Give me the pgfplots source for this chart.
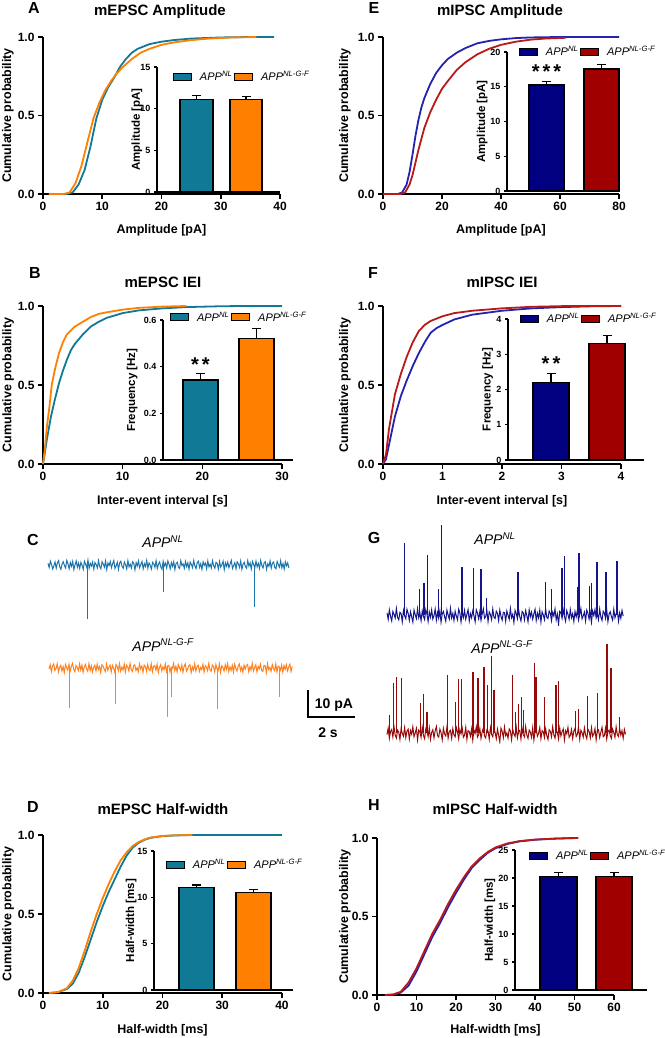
\documentclass[border=0pt]{standalone}
\usepackage{pgfplots}
\pgfplotsset{compat=1.18}
\usepackage{fontspec}
\setmainfont{Liberation Sans}
\definecolor{cA}{RGB}{16,122,150}
\definecolor{cB}{RGB}{255,127,0}
\definecolor{cN}{RGB}{0,0,128}
\definecolor{cR}{RGB}{160,0,0}
\definecolor{lN}{RGB}{35,35,175}
\definecolor{lR}{RGB}{185,25,25}
\definecolor{tA}{RGB}{27,117,172}
\definecolor{tB}{RGB}{255,128,30}
\definecolor{tN}{RGB}{20,20,140}
\definecolor{tR}{RGB}{150,10,10}
\newcommand{\fs}[1]{\fontsize{#1}{#1}\selectfont}
\newcommand{\app}[1]{\textit{APP\textsuperscript{#1}}}
\pgfplotsset{
 cdf/.style={
  scale only axis, axis lines=left, clip=false,
  axis line style={line width=1.8pt,-},
  tick style={line width=1.6pt, black},
  tick align=outside, major tick length=5pt,
  xmin=0, ymin=0, ymax=1, ytick={0,0.5,1},
  yticklabel style={/pgf/number format/.cd, fixed, fixed zerofill, precision=1},
  /pgf/number format/assume math mode=true,
  tick label style={font=\bfseries\fs{12}},
  label style={font=\bfseries\fs{12.5}},
  ylabel={Cumulative probability},
 },
 inset/.style={
  scale only axis, axis lines=left, clip=false,
  axis line style={line width=1.3pt,-},
  tick style={line width=1.2pt, black},
  tick align=outside, major tick length=3pt,
  xtick=\empty, xmin=0, ymin=0,
  /pgf/number format/assume math mode=true,
  tick label style={font=\bfseries\fs{9}},
  label style={font=\bfseries\fs{11.5}},
  legend columns=2,
  legend style={draw=none, fill=none, font=\fs{11}, anchor=west, inner sep=0pt,
    /tikz/every odd column/.append style={column sep=6pt}},
  legend cell align=left,
 },
 mybar/.style={ybar, bar shift=0pt, bar width=#1, draw=black, line width=1.2pt,
   error bars/y dir=plus, error bars/y explicit,
   error bars/error bar style={line width=1.2pt, black},
   error bars/error mark options={rotate=90, line width=1.2pt, black, mark size=4.5pt}},
 sq/.style={legend image code/.code={\draw[##1, line width=0.8pt, draw=black] (0pt,-3.5pt) rectangle (18pt,3.5pt);}},
 trace/.style={hide axis, x=23.5pt, y=2.7pt, xmin=-0.1, xmax=10.4, anchor=origin},
}
\begin{document}
\begin{tikzpicture}
\useasboundingbox (0,0) rectangle (664pt,1038pt);
% ---------------- A ----------------
\begin{axis}[cdf, at={(43pt,844pt)}, anchor=south west, width=237pt, height=157pt,
  xmax=40, xtick={0,10,20,30,40}, xlabel={Amplitude [pA]},
  ylabel style={at={(axis description cs:-0.148,0.5)}, anchor=center},
  xlabel style={at={(axis description cs:0.5,-0.229)}, anchor=center}]
\addplot[cA, line width=1.8pt] coordinates {(1,0) (4,0) (5,0.01) (6,0.06) (7,0.15) (8,0.3) (9,0.48) (10,0.6) (11,0.68) (12,0.74) (13,0.81) (14,0.86) (15,0.9) (16,0.925) (18,0.955) (20,0.97) (22,0.98) (25,0.99) (30,0.997) (35,1) (39,1)};
\addplot[cB, line width=1.8pt] coordinates {(1,0) (3.5,0) (4.5,0.01) (5.5,0.07) (6.5,0.18) (7.5,0.33) (8.5,0.48) (9.5,0.58) (10.5,0.66) (11.5,0.72) (12.5,0.77) (13.5,0.81) (15,0.86) (16.5,0.9) (18,0.925) (20,0.95) (22,0.965) (25,0.98) (28,0.99) (32,0.997) (36,1)};
\end{axis}
\begin{axis}[inset, at={(157pt,846pt)}, anchor=south west, width=123pt, height=125pt,
  xmax=123, ymax=15, ytick={0,5,10,15}, ylabel={Amplitude [pA]},
  ylabel style={at={(axis description cs:-0.163,0.5)}, anchor=center},
  legend style={at={(axis description cs:0.13,0.92)}}]
\addplot[mybar=33, fill=cA, sq] coordinates {(39.5,11.1) +- (0,0.5)};
\addplot[mybar=32, fill=cB, sq] coordinates {(89,11.1) +- (0,0.35)};
\legend{\app{NL}, \app{NL-G-F}}
\end{axis}
% ---------------- E ----------------
\begin{axis}[cdf, at={(383pt,844pt)}, anchor=south west, width=236pt, height=157pt,
  xmax=80, xtick={0,20,40,60,80}, xlabel={Amplitude [pA]},
  ylabel style={at={(axis description cs:-0.161,0.5)}, anchor=center},
  xlabel style={at={(axis description cs:0.5,-0.229)}, anchor=center}]
\addplot[lN, line width=1.8pt] coordinates {(0,0) (5,0) (6.5,0.01) (8,0.06) (9,0.14) (10,0.25) (11,0.37) (12,0.47) (13,0.55) (14,0.61) (16,0.7) (18,0.77) (20,0.82) (22,0.86) (25,0.9) (28,0.93) (32,0.96) (36,0.975) (40,0.985) (45,0.993) (50,0.997) (60,1) (80,1)};
\addplot[lR, line width=1.8pt] coordinates {(0,0) (6,0) (7.5,0.01) (9,0.06) (10,0.12) (11,0.2) (12,0.28) (13,0.35) (14,0.42) (15,0.47) (16,0.52) (18,0.6) (20,0.67) (22,0.72) (25,0.79) (28,0.84) (32,0.89) (36,0.925) (40,0.95) (45,0.97) (50,0.983) (55,0.99) (62,0.995)};
\end{axis}
\begin{axis}[inset, at={(507pt,847pt)}, anchor=south west, width=112pt, height=139pt,
  xmax=112, ymax=20, ytick={0,5,10,15,20}, ylabel={Amplitude [pA]},
  ylabel style={at={(axis description cs:-0.223,0.5)}, anchor=center},
  legend style={at={(axis description cs:0.107,1.0)}}]
\addplot[mybar=35, fill=cN, sq] coordinates {(39.5,15.25) +- (0,0.45)};
\addplot[mybar=35, fill=cR, sq] coordinates {(94.5,17.55) +- (0,0.65)};
\legend{\app{NL}, \app{NL-G-F}}
\node[font=\bfseries\fs{20}] at (axis cs:39.5,17.2) {*\kern3pt*\kern3pt*};
\end{axis}
% ---------------- B ----------------
\begin{axis}[cdf, at={(43pt,574pt)}, anchor=south west, width=239pt, height=158pt,
  xmax=30, xtick={0,10,20,30}, xlabel={Inter-event interval [s]},
  ylabel style={at={(axis description cs:-0.146,0.5)}, anchor=center},
  xlabel style={at={(axis description cs:0.5,-0.234)}, anchor=center}]
\addplot[cA, line width=1.8pt] coordinates {(0,0) (0.2,0.06) (0.5,0.16) (1,0.3) (1.5,0.41) (2,0.51) (2.5,0.59) (3,0.66) (3.5,0.72) (4,0.76) (5,0.82) (6,0.87) (7,0.9) (8,0.925) (10,0.955) (12,0.972) (15,0.985) (18,0.993) (22,0.998) (25,1) (30,1)};
\addplot[cB, line width=1.8pt] coordinates {(0,0) (0.2,0.08) (0.5,0.24) (0.8,0.36) (1.1,0.5) (1.5,0.6) (2,0.7) (2.5,0.77) (3,0.82) (4,0.87) (5,0.9) (6,0.93) (7,0.95) (8,0.96) (10,0.977) (12,0.988) (15,0.996) (18,1)};
\end{axis}
\begin{axis}[inset, at={(163pt,578pt)}, anchor=south west, width=130pt, height=140pt,
  xmax=130, ymax=0.6, ytick={0,0.2,0.4,0.6}, ylabel={Frequency [Hz]},
  yticklabel style={/pgf/number format/.cd, fixed, fixed zerofill, precision=1},
  ylabel style={at={(axis description cs:-0.238,0.5)}, anchor=center},
  legend style={at={(axis description cs:0.054,1.02)}}]
\addplot[mybar=35, fill=cA, sq] coordinates {(37.5,0.343) +- (0,0.028)};
\addplot[mybar=35, fill=cB, sq] coordinates {(93.5,0.519) +- (0,0.045)};
\legend{\app{NL}, \app{NL-G-F}}
\node[font=\bfseries\fs{20}] at (axis cs:37.5,0.41) {*\kern3pt*};
\end{axis}
% ---------------- F ----------------
\begin{axis}[cdf, at={(383pt,574pt)}, anchor=south west, width=238pt, height=158pt,
  xmax=4, xtick={0,1,2,3,4}, xlabel={Inter-event interval [s]},
  ylabel style={at={(axis description cs:-0.16,0.5)}, anchor=center},
  xlabel style={at={(axis description cs:0.5,-0.234)}, anchor=center}]
\addplot[lN, line width=1.8pt] coordinates {(0,0) (0.05,0.03) (0.1,0.12) (0.2,0.3) (0.3,0.43) (0.4,0.53) (0.5,0.62) (0.6,0.7) (0.7,0.77) (0.8,0.83) (0.9,0.86) (1,0.88) (1.2,0.915) (1.5,0.945) (2,0.97) (2.5,0.985) (3,0.993) (3.5,0.998) (4,1)};
\addplot[lR, line width=1.8pt] coordinates {(0,0) (0.05,0.06) (0.1,0.22) (0.2,0.44) (0.3,0.57) (0.4,0.68) (0.5,0.77) (0.6,0.84) (0.7,0.88) (0.8,0.905) (1,0.935) (1.2,0.955) (1.5,0.97) (2,0.985) (2.5,0.995) (3,0.999) (4,1)};
\end{axis}
\begin{axis}[inset, at={(508pt,578pt)}, anchor=south west, width=136pt, height=141pt,
  xmax=136, ymax=4, ytick={0,1,2,3,4}, ylabel={Frequency [Hz]},
  ylabel style={at={(axis description cs:-0.15,0.5)}, anchor=center},
  legend style={at={(axis description cs:0.088,1.0)}}]
\addplot[mybar=36, fill=cN, sq] coordinates {(43,2.2) +- (0,0.26)};
\addplot[mybar=36, fill=cR, sq] coordinates {(99,3.3) +- (0,0.23)};
\legend{\app{NL}, \app{NL-G-F}}
\node[font=\bfseries\fs{20}] at (axis cs:43,2.72) {*\kern3pt*};
\end{axis}
% ---------------- C traces ----------------
\begin{axis}[trace, at={(48pt,473pt)}, ymin=-21, ymax=3]
\addplot[tA, line width=1.0pt] table[header=false, row sep=\\, x expr=\coordindex*0.05, y index=0] {
0.6\\-0.9\\1.4\\0.2\\-1.5\\-0.3\\1.1\\-1.2\\0.8\\1.6\\-0.7\\-1.6\\0.4\\1.2\\-0.2\\-1.1\\1.7\\0.5\\-1.4\\0.9\\
-0.5\\1.3\\-1.7\\0.1\\1.5\\-0.8\\0.7\\-1.3\\1.0\\-0.1\\-1.6\\1.4\\0.3\\-0.9\\1.8\\-1.2\\0.6\\-0.4\\1.1\\-1.5\\
0.9\\0.2\\-1.1\\1.6\\-0.6\\-1.4\\1.2\\0.4\\-0.8\\1.5\\-1.7\\0.7\\-0.2\\1.3\\-1.0\\0.5\\1.7\\-1.3\\-0.3\\1.0\\
-1.6\\0.8\\1.4\\-0.5\\-1.2\\1.1\\0.1\\-1.5\\1.6\\-0.7\\0.3\\-1.1\\1.2\\0.6\\-1.8\\0.9\\-0.4\\1.5\\-1.0\\0.2\\
1.3\\-1.4\\0.5\\-0.6\\1.7\\-1.2\\0.8\\-0.1\\-1.5\\1.0\\0.4\\-0.9\\1.6\\-1.3\\0.2\\1.1\\-0.7\\-1.6\\1.4\\-0.3\\
0.7\\-1.1\\1.5\\0.3\\-1.4\\0.9\\-0.5\\1.2\\-1.7\\0.6\\1.0\\-0.8\\-1.3\\1.6\\-0.2\\0.4\\-1.2\\1.3\\-0.6\\0.8\\
-1.5\\1.1\\0.2\\-1.0\\1.7\\-0.4\\-1.3\\0.9\\1.4\\-0.9\\0.5\\-1.6\\1.2\\-0.1\\0.7\\-1.4\\1.5\\-0.7\\0.3\\-1.1\\
1.6\\-0.3\\-1.2\\1.0\\0.6\\-1.5\\1.3\\-0.8\\0.1\\1.4\\-1.7\\0.8\\-0.5\\1.1\\-1.0\\0.4\\1.7\\-1.3\\-0.2\\0.9\\
-1.4\\1.2\\0.5\\-0.9\\1.5\\-1.6\\0.3\\1.0\\-0.6\\-1.2\\1.6\\-0.4\\0.8\\-1.5\\1.3\\0.2\\-1.0\\1.4\\-0.7\\0.6\\
-1.3\\1.7\\-0.2\\-1.1\\0.9\\1.2\\-1.6\\0.4\\-0.5\\1.5\\-1.2\\0.7\\1.1\\-0.9\\-1.4\\1.3\\0.1\\-0.8\\1.6\\-1.0\\
0.5\\-1.5\\1.2\\-0.3\\0.8\\-1.1\\
};
\addplot[ycomb, tA, line width=0.9pt] coordinates {(1.66,-20) (4.9,-10) (8.77,-15.5)};
\end{axis}
\begin{axis}[trace, at={(49pt,370pt)}, ymin=-19, ymax=3]
\addplot[tB, line width=1.0pt] table[header=false, row sep=\\, x expr=\coordindex*0.05, y index=0] {
-0.4\\1.2\\-1.3\\0.7\\1.5\\-0.9\\-0.2\\1.6\\-1.5\\0.3\\1.0\\-1.1\\0.5\\-1.7\\1.3\\0.1\\-0.8\\1.4\\-1.2\\0.6\\
1.7\\-0.5\\-1.4\\0.9\\0.2\\-1.0\\1.5\\-0.7\\1.1\\-1.6\\0.4\\1.3\\-0.3\\-1.2\\1.6\\-0.9\\0.8\\-1.5\\0.3\\1.0\\
-1.1\\1.4\\-0.6\\0.5\\-1.7\\1.2\\0.7\\-0.4\\-1.3\\1.5\\-0.8\\0.2\\1.1\\-1.4\\0.9\\-0.1\\-1.6\\1.3\\0.6\\-1.0\\
1.6\\-1.2\\0.3\\-0.7\\1.4\\-1.5\\1.0\\0.4\\-1.1\\1.7\\-0.6\\-1.3\\0.8\\1.2\\-0.9\\0.1\\-1.4\\1.5\\-0.3\\0.7\\
-1.6\\1.1\\0.5\\-1.2\\1.3\\-0.5\\-1.0\\1.6\\-1.4\\0.6\\0.9\\-0.8\\1.4\\-1.7\\0.2\\1.2\\-1.1\\0.4\\-0.6\\1.5\\
-1.3\\0.8\\1.0\\-1.5\\0.3\\-0.2\\1.7\\-1.0\\0.6\\-1.4\\1.3\\0.1\\-0.9\\1.1\\-1.6\\0.7\\1.5\\-1.2\\-0.4\\0.9\\
1.2\\-1.7\\0.4\\-0.8\\1.6\\-1.1\\0.5\\1.0\\-1.3\\0.2\\-0.6\\1.4\\-1.5\\0.9\\0.3\\-1.0\\1.7\\-0.7\\-1.2\\1.1\\
0.6\\-1.4\\1.3\\-0.3\\-0.9\\1.5\\-1.6\\0.8\\0.2\\-1.1\\1.2\\-0.5\\1.6\\-1.3\\0.4\\-0.8\\1.0\\-1.5\\1.4\\-0.1\\
-1.2\\0.7\\1.5\\-1.0\\0.3\\-1.6\\1.1\\-0.4\\0.9\\1.3\\-1.4\\0.5\\-0.7\\1.7\\-1.1\\0.1\\1.2\\-1.5\\0.6\\-0.3\\
1.4\\-0.9\\-1.3\\1.0\\0.8\\-1.7\\1.6\\-0.6\\0.2\\-1.2\\1.3\\-0.2\\-1.0\\1.5\\-1.4\\0.7\\0.4\\-0.8\\1.1\\-1.6\\
0.9\\-0.5\\1.2\\-1.1\\0.3\\1.4\\-1.3\\0.6\\
};
\addplot[ycomb, tB, line width=0.9pt] coordinates {(0.89,-14.8) (2.81,-13.3) (5.06,-18.1) (5.23,-10.7) (7.15,-15.2) (9.79,-10.7)};
\end{axis}
% ---------------- G traces ----------------
\begin{axis}[trace, at={(387pt,423pt)}, ymin=-4, ymax=34]
\addplot[tN, line width=1.0pt] table[header=false, row sep=\\, x expr=\coordindex*0.05, y index=0] {
0.8\\-1.6\\1.9\\-0.4\\-2.2\\1.3\\0.2\\-1.1\\2.4\\-0.9\\-1.8\\1.0\\0.5\\-2.5\\1.7\\-0.3\\-1.4\\2.1\\0.6\\-2.0\\
1.2\\-0.7\\-2.6\\1.8\\0.1\\-1.3\\2.3\\-1.0\\0.7\\-2.1\\1.5\\-0.5\\-1.7\\2.0\\0.3\\-2.4\\1.1\\-0.8\\1.9\\-1.5\\
-0.2\\2.2\\-1.9\\0.9\\-1.2\\1.6\\-2.7\\0.4\\1.3\\-0.6\\-2.3\\1.8\\0.0\\-1.5\\2.5\\-1.1\\0.6\\-2.0\\1.4\\-0.4\\
-1.8\\2.1\\0.8\\-2.6\\1.0\\-0.9\\1.7\\-1.6\\0.3\\2.0\\-2.2\\0.5\\-1.0\\1.5\\-0.3\\-2.5\\1.9\\0.7\\-1.4\\1.2\\
-2.0\\0.4\\2.3\\-1.2\\-0.6\\1.6\\-2.4\\1.1\\0.2\\-1.7\\2.2\\-0.8\\-1.3\\1.4\\0.6\\-2.1\\1.8\\-0.5\\-1.9\\1.0\\
0.9\\-2.3\\1.5\\-0.1\\-1.6\\2.4\\-1.0\\0.3\\-2.8\\1.7\\0.5\\-1.4\\2.0\\-0.7\\-2.2\\1.3\\0.8\\-1.8\\1.6\\-0.2\\
-2.5\\1.9\\-0.6\\1.1\\-1.5\\0.4\\2.1\\-2.0\\0.7\\-1.1\\1.8\\-2.6\\1.2\\0.0\\-1.7\\2.3\\-0.9\\-1.3\\1.5\\0.6\\
-2.1\\1.0\\-0.4\\2.2\\-1.8\\0.3\\-3.4\\1.4\\0.8\\-1.2\\1.9\\-0.5\\-2.3\\1.6\\0.2\\-1.6\\2.0\\-1.0\\0.5\\-2.4\\
1.3\\-0.7\\1.7\\-1.9\\0.1\\2.4\\-1.4\\-0.3\\1.1\\-2.2\\1.8\\0.6\\-1.5\\0.9\\-2.7\\1.5\\-0.2\\2.0\\-1.1\\0.4\\
-1.7\\2.2\\-0.8\\-2.0\\1.4\\0.7\\-1.3\\1.9\\-2.5\\0.3\\1.2\\-0.6\\-1.9\\2.1\\-1.0\\0.5\\1.6\\-2.3\\0.8\\-1.2\\
1.7\\-0.4\\
};
\addplot[ycomb, tN, line width=1.3pt] coordinates {(0.75,26.5) (1.38,9.5) (1.57,12) (1.72,22.2) (2.2,9.5) (2.31,33.3) (3.19,17.9) (3.69,17.3) (4.0,16.9) (4.23,6.2) (5.57,15.9) (6.75,12.3) (6.99,9.5) (7.45,17.5) (7.56,21.9) (8.11,10.2) (8.17,23.1) (8.62,10.7) (8.71,11.7) (8.94,19.7) (9.32,16) (9.79,20.1)};
\end{axis}
\begin{axis}[trace, at={(387pt,305pt)}, ymin=-4, ymax=34]
\addplot[tR, line width=1.0pt] table[header=false, row sep=\\, x expr=\coordindex*0.05, y index=0] {
-0.6\\1.8\\-2.0\\0.5\\1.3\\-1.5\\2.2\\-0.8\\-1.9\\1.0\\0.3\\-2.4\\1.6\\-0.2\\-1.2\\2.0\\-1.7\\0.7\\1.4\\-2.2\\
0.9\\-0.5\\2.3\\-1.4\\-0.1\\1.7\\-2.6\\1.1\\0.4\\-1.6\\2.1\\-0.9\\-2.1\\1.5\\0.6\\-1.3\\1.9\\-2.3\\0.2\\1.2\\
-1.8\\0.8\\2.4\\-1.0\\-1.5\\1.4\\0.1\\-2.5\\1.7\\-0.4\\-1.1\\2.2\\-1.9\\0.6\\1.0\\-2.0\\1.6\\-0.7\\-1.4\\2.0\\
0.3\\-2.2\\1.3\\-0.3\\1.8\\-1.6\\-0.8\\2.1\\-2.4\\0.9\\0.5\\-1.2\\1.5\\-2.7\\1.1\\-0.1\\2.3\\-1.5\\-0.6\\1.7\\
-2.0\\0.4\\1.9\\-1.1\\-1.8\\1.2\\0.7\\-2.3\\2.0\\-0.5\\-1.4\\1.6\\0.2\\-2.1\\1.4\\-0.9\\-3.3\\1.8\\0.6\\-1.7\\
2.2\\-1.0\\0.0\\-1.9\\1.5\\0.8\\-2.5\\1.3\\-0.4\\-1.3\\2.1\\-1.8\\0.5\\1.0\\-2.2\\1.7\\-0.6\\-1.5\\2.4\\-0.8\\
-2.0\\1.1\\0.3\\-1.6\\1.9\\-2.6\\0.7\\1.4\\-1.2\\-0.2\\2.0\\-2.1\\0.9\\0.4\\-1.7\\1.6\\-1.0\\-2.4\\1.2\\0.6\\
-1.4\\2.3\\-0.7\\-1.9\\1.0\\0.2\\-2.2\\1.8\\-1.1\\0.5\\1.5\\-2.6\\0.8\\-0.3\\2.1\\-1.6\\-0.9\\1.3\\-2.0\\0.7\\
1.7\\-1.3\\-0.5\\2.2\\-2.3\\1.0\\0.1\\-1.5\\1.9\\-0.8\\-2.1\\1.4\\0.6\\-1.8\\2.0\\-1.2\\-0.4\\1.6\\-2.5\\0.9\\
1.2\\-1.7\\0.3\\2.1\\-1.4\\-0.9\\1.8\\-2.2\\0.5\\1.1\\-1.0\\-2.0\\1.5\\0.2\\-1.6\\2.3\\-0.6\\-1.3\\1.7\\-0.8\\
0.8\\-1.9\\1.3\\-0.5\\
};
\addplot[ycomb, tR, line width=1.2pt] coordinates {(0.1,6.7) (0.26,18.6) (0.41,20.6) (0.61,20.2) (1.43,11) (1.56,14.4) (1.7,7.9) (2.58,21.5) (2.91,11.6) (3.03,20) (3.18,20) (3.66,22.7) (3.87,20.2) (4.13,24.3) (4.28,17.8) (4.43,28.5) (4.55,15.9) (5.35,21.5) (5.46,7.9) (5.6,10.7) (5.72,13.4) (5.8,8.5) (6.28,26) (6.34,20.9) (6.71,13.4) (7.19,17.8) (7.31,19.4) (8.01,8.3) (8.16,8.8) (8.52,13.7) (8.97,14.7) (9.36,33) (9.53,24) (9.89,6)};
\end{axis}
% ---------------- D ----------------
\begin{axis}[cdf, at={(43pt,45pt)}, anchor=south west, width=239pt, height=158pt,
  xmax=40, xtick={0,10,20,30,40}, xlabel={Half-width [ms]},
  ylabel style={at={(axis description cs:-0.146,0.5)}, anchor=center},
  xlabel style={at={(axis description cs:0.5,-0.234)}, anchor=center}]
\addplot[cA, line width=1.8pt] coordinates {(1,0) (2.5,0.005) (4,0.025) (5,0.06) (6,0.13) (7,0.23) (8,0.34) (9,0.45) (10,0.55) (11,0.64) (12,0.72) (13,0.8) (14,0.87) (15,0.92) (16,0.95) (17,0.97) (18,0.982) (20,0.993) (22,0.997) (25,1) (40,1)};
\addplot[cB, line width=1.8pt] coordinates {(1,0) (2.5,0.005) (4,0.03) (5,0.08) (6,0.16) (7,0.27) (8,0.39) (9,0.5) (10,0.6) (11,0.69) (12,0.77) (13,0.84) (14,0.89) (15,0.93) (16,0.955) (17,0.972) (18,0.984) (20,0.994) (22,0.998) (25,1)};
\end{axis}
\begin{axis}[inset, at={(154pt,48pt)}, anchor=south west, width=139pt, height=139pt,
  xmax=139, ymax=15, ytick={0,5,10,15}, ylabel={Half-width [ms]},
  ylabel style={at={(axis description cs:-0.164,0.5)}, anchor=center},
  legend style={at={(axis description cs:0.086,0.9)}}]
\addplot[mybar=35, fill=cA, sq] coordinates {(42.5,11.04) +- (0,0.3)};
\addplot[mybar=35, fill=cB, sq] coordinates {(99.5,10.54) +- (0,0.28)};
\legend{\app{NL}, \app{NL-G-F}}
\end{axis}
% ---------------- H ----------------
\begin{axis}[cdf, at={(377pt,43pt)}, anchor=south west, width=237pt, height=157pt,
  xmax=60, xtick={0,10,20,30,40,50,60}, xlabel={Half-width [ms]},
  ylabel style={at={(axis description cs:-0.135,0.5)}, anchor=center},
  xlabel style={at={(axis description cs:0.5,-0.223)}, anchor=center}]
\addplot[lN, line width=1.8pt] coordinates {(2,0) (4,0.002) (6,0.015) (8,0.06) (10,0.15) (12,0.26) (14,0.37) (16,0.46) (18,0.56) (20,0.65) (22,0.735) (24,0.81) (26,0.86) (28,0.905) (30,0.935) (33,0.962) (36,0.978) (40,0.989) (45,0.996) (50,1)};
\addplot[lR, line width=1.8pt] coordinates {(2,0) (4,0.003) (6,0.02) (8,0.08) (10,0.17) (12,0.28) (14,0.39) (16,0.48) (18,0.58) (20,0.67) (22,0.75) (24,0.82) (26,0.87) (28,0.91) (30,0.94) (33,0.965) (36,0.98) (40,0.99) (45,0.996) (51,1)};
\end{axis}
\begin{axis}[inset, at={(515pt,48pt)}, anchor=south west, width=132pt, height=140pt,
  xmax=132, ymax=25, ytick={0,5,10,15,20,25}, ylabel={Half-width [ms]},
  ylabel style={at={(axis description cs:-0.19,0.5)}, anchor=center},
  legend style={at={(axis description cs:0.106,0.96)}}]
\addplot[mybar=37, fill=cN, sq] coordinates {(43.5,20.2) +- (0,0.75)};
\addplot[mybar=36, fill=cR, sq] coordinates {(99,20.25) +- (0,0.7)};
\legend{\app{NL}, \app{NL-G-F}}
\end{axis}
% ---------------- texts ----------------
\node[font=\bfseries\fs{15}] at (160pt,1026pt) {mEPSC Amplitude};
\node[font=\bfseries\fs{15}] at (500pt,1026pt) {mIPSC Amplitude};
\node[font=\bfseries\fs{15}] at (163pt,756pt) {mEPSC IEI};
\node[font=\bfseries\fs{15}] at (502pt,756pt) {mIPSC IEI};
\node[font=\bfseries\fs{15}] at (163pt,229pt) {mEPSC Half-width};
\node[font=\bfseries\fs{15}] at (495pt,229pt) {mIPSC Half-width};
\node[font=\bfseries\fs{16}] at (34pt,1030pt) {A};
\node[font=\bfseries\fs{16}] at (374pt,1030pt) {E};
\node[font=\bfseries\fs{16}] at (35pt,765pt) {B};
\node[font=\bfseries\fs{16}] at (373pt,765pt) {F};
\node[font=\bfseries\fs{16}] at (33pt,498pt) {C};
\node[font=\bfseries\fs{16}] at (374pt,500pt) {G};
\node[font=\bfseries\fs{16}] at (33pt,231pt) {D};
\node[font=\bfseries\fs{16}] at (374pt,233pt) {H};
\node[font=\fs{14}] at (163pt,496pt) {\app{NL}};
\node[font=\fs{14}] at (163pt,393pt) {\app{NL-G-F}};
\node[font=\fs{14}] at (495pt,499pt) {\app{NL}};
\node[font=\fs{14}] at (502pt,391pt) {\app{NL-G-F}};
\draw[line width=1.8pt] (308pt,348pt) -- (308pt,321pt) -- (355pt,321pt);
\node[font=\bfseries\fs{14}] at (334pt,333pt) {10 pA};
\node[font=\bfseries\fs{14}] at (328pt,305pt) {2 s};
\end{tikzpicture}
\end{document}
